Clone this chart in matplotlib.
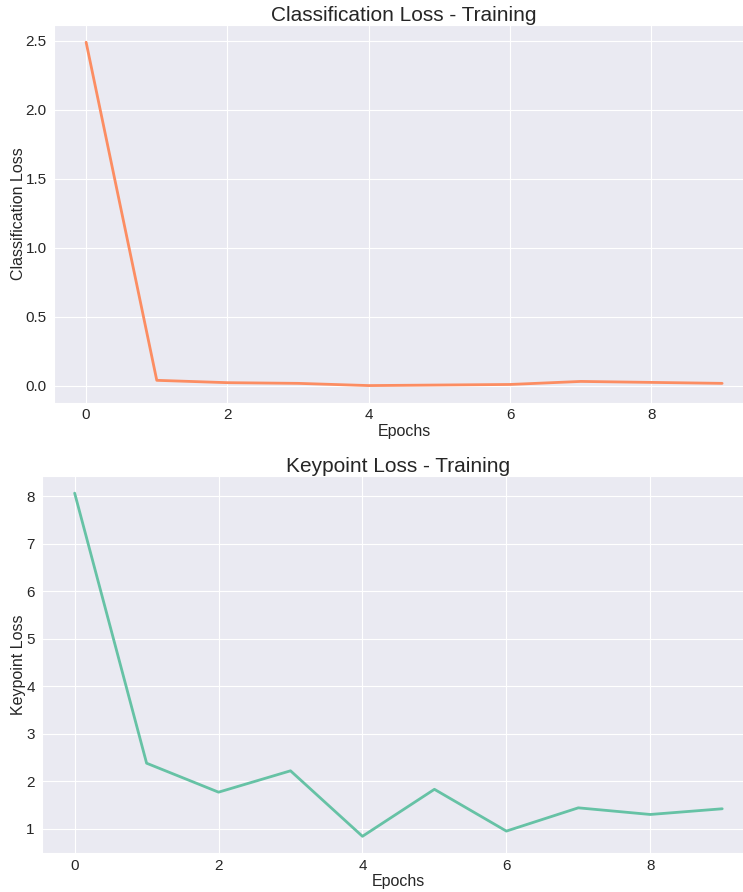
import matplotlib
matplotlib.use("Agg")
import matplotlib.pyplot as plt
import seaborn as sns

epochs = list(range(10))
cls_loss = [2.49, 0.041, 0.024, 0.019, 0.003, 0.007, 0.011, 0.033, 0.026, 0.019]
kp_loss = [8.07, 2.38, 1.77, 2.22, 0.84, 1.83, 0.95, 1.44, 1.30, 1.42]

sns.set_style("darkgrid")
plt.rcParams['font.family'] = ['Liberation Sans', 'DejaVu Sans']

fig = plt.figure(figsize=(7.43, 8.92), dpi=100)
ax1 = fig.add_axes([0.0731, 0.5485, 0.9416, 0.4234])
ax2 = fig.add_axes([0.0569, 0.0432, 0.9587, 0.4232])

for ax, data, color, title, ylabel in [
    (ax1, cls_loss, '#fc8d62', 'Classification Loss - Training', 'Classification Loss'),
    (ax2, kp_loss, '#66c2a5', 'Keypoint Loss - Training', 'Keypoint Loss'),
]:
    ax.plot(epochs, data, color=color, linewidth=2)
    ax.set_title(title, fontsize=15, pad=3, color='#262626')
    ax.set_xlabel('Epochs', fontsize=11.5, labelpad=1)
    ax.set_ylabel(ylabel, fontsize=11.5, labelpad=0)
    ax.tick_params(axis='x', labelsize=11, pad=0.5)
    ax.tick_params(axis='y', labelsize=11, pad=2)

fig.savefig('out.png', dpi=100)
